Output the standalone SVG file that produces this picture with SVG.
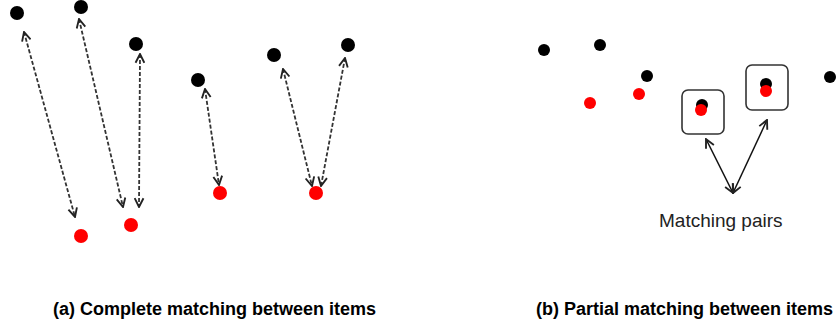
<svg xmlns="http://www.w3.org/2000/svg" width="839" height="327" viewBox="0 0 839 327">
<defs>
<marker id="chev" viewBox="0 0 10 10" refX="9" refY="5" markerWidth="11" markerHeight="11" markerUnits="userSpaceOnUse" orient="auto-start-reverse">
<path d="M1,1 L9,5 L1,9" fill="none" stroke="#222" stroke-width="1.7"/>
</marker>
</defs>
<style>
.blk{fill:#000}
.red{fill:#f00}
.dash{fill:none;stroke:#333;stroke-width:1.8;stroke-dasharray:4 2;marker-start:url(#chev);marker-end:url(#chev)}
.solid{fill:none;stroke:#111;stroke-width:1.5;marker-start:url(#chev);marker-end:url(#chev)}
.box{fill:none;stroke:#333;stroke-width:1.6}
.cap{font-family:"Liberation Sans",Arial,sans-serif;font-weight:bold;font-size:18px;fill:#000}
.lbl{font-family:"Liberation Sans",Arial,sans-serif;font-size:19px;fill:#222}
</style>
<g id="connectors">
<line class="dash" x1="24" y1="32" x2="75" y2="217"/>
<line class="dash" x1="79" y1="19" x2="123" y2="207"/>
<line class="dash" x1="140" y1="54" x2="139" y2="207"/>
<line class="dash" x1="205" y1="89" x2="219" y2="185"/>
<line class="dash" x1="283" y1="69" x2="312" y2="186"/>
<line class="dash" x1="345" y1="58" x2="321" y2="186"/>
<line class="solid" x1="706" y1="139" x2="733" y2="193"/>
<line class="solid" x1="767" y1="120" x2="733" y2="193"/>
</g>
<g id="a-top1"><circle class="blk" cx="17" cy="13" r="7"/></g>
<g id="a-top2"><circle class="blk" cx="81" cy="7" r="7"/></g>
<g id="a-top3"><circle class="blk" cx="136" cy="44" r="7"/></g>
<g id="a-top4"><circle class="blk" cx="198" cy="80" r="7"/></g>
<g id="a-top5"><circle class="blk" cx="274" cy="55" r="7"/></g>
<g id="a-top6"><circle class="blk" cx="348" cy="45" r="7"/></g>
<g id="a-bot1"><circle class="red" cx="81" cy="236" r="7"/></g>
<g id="a-bot2"><circle class="red" cx="131" cy="225" r="7"/></g>
<g id="a-bot3"><circle class="red" cx="220" cy="193" r="7"/></g>
<g id="a-bot4"><circle class="red" cx="316" cy="193" r="7"/></g>
<g id="b-top1"><circle class="blk" cx="544" cy="50" r="6"/></g>
<g id="b-top2"><circle class="blk" cx="600" cy="45" r="6"/></g>
<g id="b-top3"><circle class="blk" cx="647" cy="76" r="6"/></g>
<g id="b-top4"><circle class="blk" cx="830" cy="77" r="6"/></g>
<g id="b-bot1"><circle class="red" cx="590" cy="103" r="6"/></g>
<g id="b-bot2"><circle class="red" cx="639" cy="94" r="6"/></g>
<g id="pair1">
<rect class="box" x="682" y="90" width="42" height="44" rx="6"/>
<circle class="blk" cx="702" cy="105" r="6"/>
<circle class="red" cx="701" cy="110" r="6"/>
</g>
<g id="pair2">
<rect class="box" x="746" y="65" width="42" height="45" rx="6"/>
<circle class="blk" cx="766" cy="84" r="6"/>
<circle class="red" cx="766" cy="91" r="6"/>
</g>
<g id="label-pairs"><text class="lbl" x="659" y="227">Matching pairs</text></g>
<g id="caption-a"><text class="cap" x="53" y="315">(a) Complete matching between items</text></g>
<g id="caption-b"><text class="cap" x="536" y="315">(b) Partial matching between items</text></g>
</svg>
